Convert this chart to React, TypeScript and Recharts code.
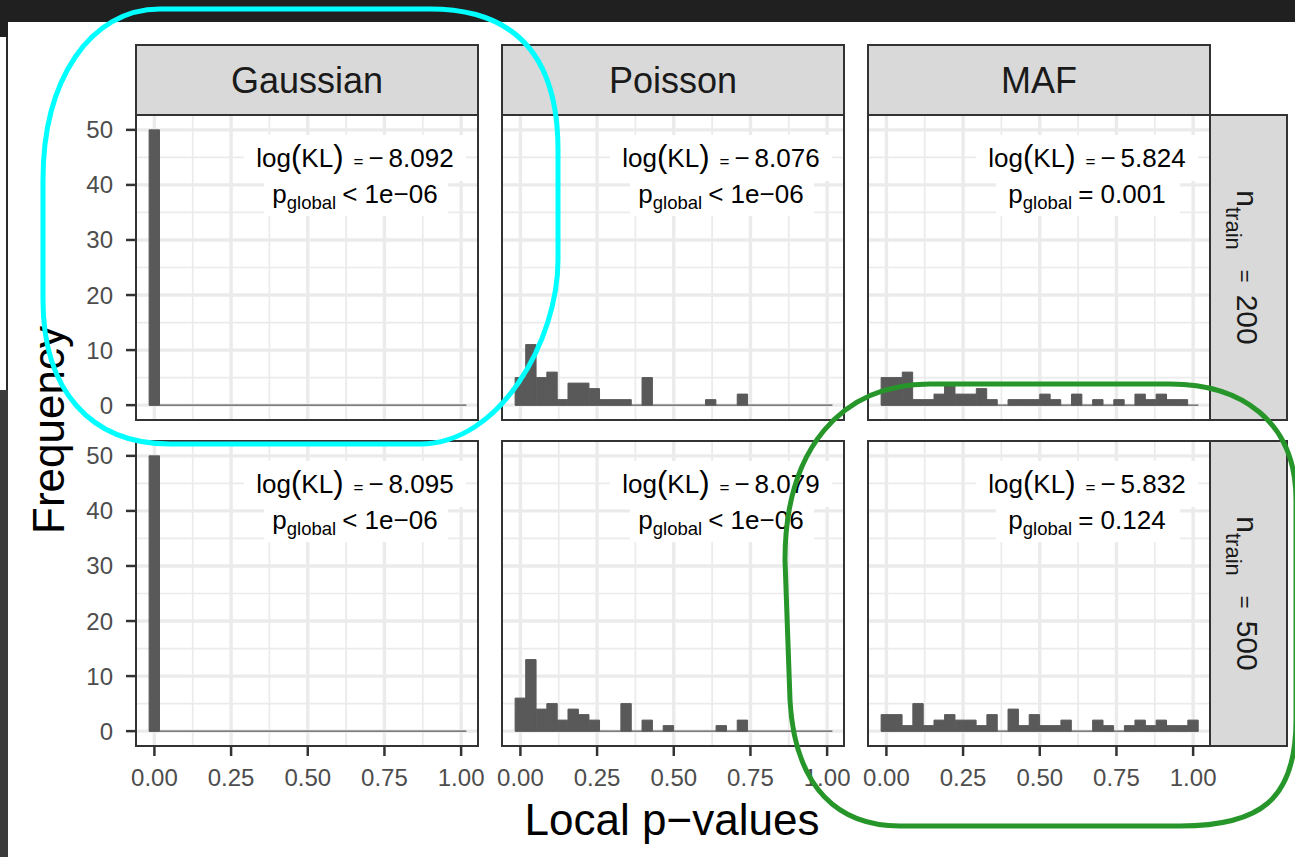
import React from 'react';
import { BarChart, Bar, XAxis, YAxis, CartesianGrid, ReferenceLine } from 'recharts';

const BIN_MIDS = [0, 0.03448, 0.06897, 0.10345, 0.13793, 0.17241, 0.2069, 0.24138, 0.27586, 0.31034, 0.34483, 0.37931, 0.41379, 0.44828, 0.48276, 0.51724, 0.55172, 0.58621, 0.62069, 0.65517, 0.68966, 0.72414, 0.75862, 0.7931, 0.82759, 0.86207, 0.89655, 0.93103, 0.96552, 1];

const GAUSSIAN_200 = [50, 0, 0, 0, 0, 0, 0, 0, 0, 0, 0, 0, 0, 0, 0, 0, 0, 0, 0, 0, 0, 0, 0, 0, 0, 0, 0, 0, 0, 0];
const POISSON_200 = [5, 11, 5, 6, 1, 4, 4, 3, 1, 1, 1, 0, 5, 0, 0, 0, 0, 0, 1, 0, 0, 2, 0, 0, 0, 0, 0, 0, 0, 0];
const MAF_200 = [5, 5, 6, 1, 1, 2, 4, 2, 2, 3, 1, 0, 1, 1, 1, 2, 1, 0, 2, 0, 1, 0, 1, 0, 2, 1, 2, 1, 1, 0];
const GAUSSIAN_500 = [50, 0, 0, 0, 0, 0, 0, 0, 0, 0, 0, 0, 0, 0, 0, 0, 0, 0, 0, 0, 0, 0, 0, 0, 0, 0, 0, 0, 0, 0];
const POISSON_500 = [6, 13, 4, 5, 2, 4, 3, 2, 0, 0, 5, 0, 2, 0, 1, 0, 0, 0, 0, 1, 0, 2, 0, 0, 0, 0, 0, 0, 0, 0];
const MAF_500 = [3, 3, 1, 5, 1, 2, 3, 2, 2, 1, 3, 0, 4, 1, 3, 1, 1, 2, 0, 0, 2, 1, 0, 1, 2, 1, 2, 1, 1, 2];

const MODELS = ['Gaussian', 'Poisson', 'MAF'];
const N_TRAIN = ['200', '500'];
const LOG_KL_200 = ['8.092', '8.076', '5.824'];
const LOG_KL_500 = ['8.095', '8.079', '5.832'];
const P_GLOBAL_200 = ['< 1e\u221206', '< 1e\u221206', '= 0.001'];
const P_GLOBAL_500 = ['< 1e\u221206', '< 1e\u221206', '= 0.124'];

const X_TICKS = [0, 0.25, 0.5, 0.75, 1];
const X_MINOR = [0.125, 0.375, 0.625, 0.875];
const Y_TICKS = [0, 10, 20, 30, 40, 50];
const Y_MINOR = [5, 15, 25, 35, 45];

const COUNTS = [
  [GAUSSIAN_200, POISSON_200, MAF_200],
  [GAUSSIAN_500, POISSON_500, MAF_500],
];
const LOG_KL = [LOG_KL_200, LOG_KL_500];
const P_GLOBAL = [P_GLOBAL_200, P_GLOBAL_500];

const FONT = '"Liberation Sans", Arial, Helvetica, sans-serif';
const COL_X = [136, 502, 868];
const ROW_Y = [115, 441];
const PANEL_W = 342;
const PANEL_H = 305;
const Y_AXIS_W = 80;
const X_AXIS_H = 60;
const RIGHT_PAD = 30;
const X_DOMAIN: [number, number] = [-0.06, 1.055];
const Y_DOMAIN: [number, number] = [-2.7, 52.7];
const BIN_W = BIN_MIDS[1] - BIN_MIDS[0];
const BAR_PX = (PANEL_W / (X_DOMAIN[1] - X_DOMAIN[0])) * BIN_W - 0.2;
const BAR_FILL = '#595959';
const STRIP_FILL = '#d9d9d9';
const BORDER = '#333333';
const GRID = '#ebebeb';

const emptyTick = () => <g />;

function Panel({ row, col }: { row: number; col: number }) {
  const counts = COUNTS[row][col];
  const data = BIN_MIDS.map((x, i) => ({ x, n: counts[i] }));
  const showY = col === 0;
  const showX = row === 1;
  const tickStyle = { fill: '#4d4d4d', fontSize: 24, fontFamily: FONT };
  return (
    <div style={{ position: 'absolute', left: COL_X[col] - Y_AXIS_W, top: ROW_Y[row] }}>
      <BarChart
        width={Y_AXIS_W + PANEL_W + RIGHT_PAD}
        height={PANEL_H + X_AXIS_H}
        data={data}
        margin={{ top: 0, right: RIGHT_PAD, bottom: 0, left: 0 }}
        barCategoryGap={0}
        barGap={0}
      >
        <CartesianGrid stroke={GRID} strokeWidth={1.7} horizontalValues={Y_MINOR} verticalValues={X_MINOR} />
        <CartesianGrid stroke={GRID} strokeWidth={3.4} horizontalValues={Y_TICKS} verticalValues={X_TICKS} />
        <XAxis
          type="number"
          dataKey="x"
          domain={X_DOMAIN}
          ticks={X_TICKS}
          interval={0}
          height={X_AXIS_H}
          axisLine={false}
          tickLine={showX ? { stroke: BORDER, strokeWidth: 2.5 } : false}
          tickSize={10}
          tickMargin={13}
          tick={showX ? tickStyle : emptyTick}
          tickFormatter={(v: number) => v.toFixed(2)}
        />
        <YAxis
          type="number"
          domain={Y_DOMAIN}
          ticks={Y_TICKS}
          interval={0}
          width={Y_AXIS_W}
          axisLine={false}
          tickLine={showY ? { stroke: BORDER, strokeWidth: 2.5 } : false}
          tickSize={10}
          tickMargin={13}
          tick={showY ? tickStyle : emptyTick}
        />
        <Bar dataKey="n" fill={BAR_FILL} stroke={BAR_FILL} strokeWidth={1} barSize={BAR_PX} isAnimationActive={false} />
        <ReferenceLine
          segment={[
            { x: BIN_MIDS[0] - BIN_W / 2, y: 0 },
            { x: BIN_MIDS[BIN_MIDS.length - 1] + BIN_W / 2, y: 0 },
          ]}
          stroke={BAR_FILL}
          strokeWidth={1.3}
        />
      </BarChart>
    </div>
  );
}

function Annotation({ row, col }: { row: number; col: number }) {
  const L = COL_X[col];
  const T = ROW_Y[row];
  const cx = L + 219;
  return (
    <g fontFamily={FONT} fill="#000">
      <rect x={L + 108} y={T + 20} width={222} height={46} fill="#fff" />
      <rect x={L + 128} y={T + 63} width={184} height={38} fill="#fff" />
      <text x={cx} y={T + 52} textAnchor="middle" fontSize={26}>
        log<tspan fontSize={31}>(</tspan>KL<tspan fontSize={31}>)</tspan>
        <tspan dx={10} fontSize={17}>=</tspan>
        <tspan dx={5}>{'\u2212'}</tspan>
        <tspan dx={5}>{LOG_KL[row][col]}</tspan>
      </text>
      <text x={cx} y={T + 88} textAnchor="middle" fontSize={26}>
        p<tspan fontSize={18.5} dy={6}>global</tspan>
        <tspan dy={-6} dx={6}>{P_GLOBAL[row][col]}</tspan>
      </text>
    </g>
  );
}

function Overlay() {
  return (
    <svg width={1295} height={857} style={{ position: 'absolute', left: 0, top: 0, pointerEvents: 'none' }}>
      <rect x={0} y={0} width={1295} height={22} fill="#202020" />
      <rect x={0} y={22} width={8} height={15} fill="#202020" />
      <line x1={7} y1={37} x2={7} y2={390} stroke="#2a2a2a" strokeWidth={2} />
      <rect x={0} y={390} width={8} height={467} fill="#3b3b3b" />

      {MODELS.map((m, c) => (
        <g key={m}>
          <rect x={COL_X[c]} y={45} width={PANEL_W} height={70} fill={STRIP_FILL} stroke={BORDER} strokeWidth={2} />
          <text x={COL_X[c] + PANEL_W / 2} y={93} textAnchor="middle" fontSize={36} fontFamily={FONT} fill="#1a1a1a">
            {m}
          </text>
        </g>
      ))}

      {N_TRAIN.map((n, r) => (
        <g key={n}>
          <rect x={1210} y={ROW_Y[r]} width={77} height={PANEL_H} fill={STRIP_FILL} stroke={BORDER} strokeWidth={2} />
          <text
            transform={`translate(1237, ${ROW_Y[r] + PANEL_H / 2}) rotate(90)`}
            textAnchor="middle"
            fontSize={30}
            fontFamily={FONT}
            fill="#1a1a1a"
          >
            n<tspan fontSize={22} dy={11}>train</tspan>
            <tspan fontSize={22} dy={-11} dx={20}>=</tspan>
            <tspan dx={12}>{n}</tspan>
          </text>
        </g>
      ))}

      {ROW_Y.map((y, r) =>
        COL_X.map((x, c) => (
          <g key={`${r}-${c}`}>
            <rect x={x} y={y} width={PANEL_W} height={PANEL_H} fill="none" stroke={BORDER} strokeWidth={2} />
            <Annotation row={r} col={c} />
          </g>
        ))
      )}

      <text x={672} y={835} textAnchor="middle" fontSize={44} fontFamily={FONT} fill="#000">
        Local p{'\u2212'}values
      </text>
      <text transform="translate(64, 430) rotate(-90)" textAnchor="middle" fontSize={44} fontFamily={FONT} fill="#000">
        Frequency
      </text>

      <path
        d="M 160 9 L 430 9 C 510 9, 558 50, 558 150 L 558 260 C 558 340, 500 444, 420 444 L 170 444 C 90 444, 43 390, 43 300 L 43 180 C 43 80, 90 9, 160 9 Z"
        fill="none"
        stroke="#00ffff"
        strokeWidth={5}
      />
      <path
        d="M 930 384 L 1170 384 C 1240 384, 1296 420, 1296 500 L 1296 720 C 1296 800, 1260 826, 1180 826 L 900 826 C 840 826, 795 790, 790 700 L 785 560 C 785 450, 840 384, 930 384 Z"
        fill="none"
        stroke="#26962a"
        strokeWidth={5}
      />
    </svg>
  );
}

export default function App() {
  return (
    <div style={{ position: 'absolute', left: 0, top: 0, width: 1295, height: 857, background: '#fff', overflow: 'hidden' }}>
      {ROW_Y.map((_, r) => COL_X.map((_, c) => <Panel key={`${r}-${c}`} row={r} col={c} />))}
      <Overlay />
    </div>
  );
}
